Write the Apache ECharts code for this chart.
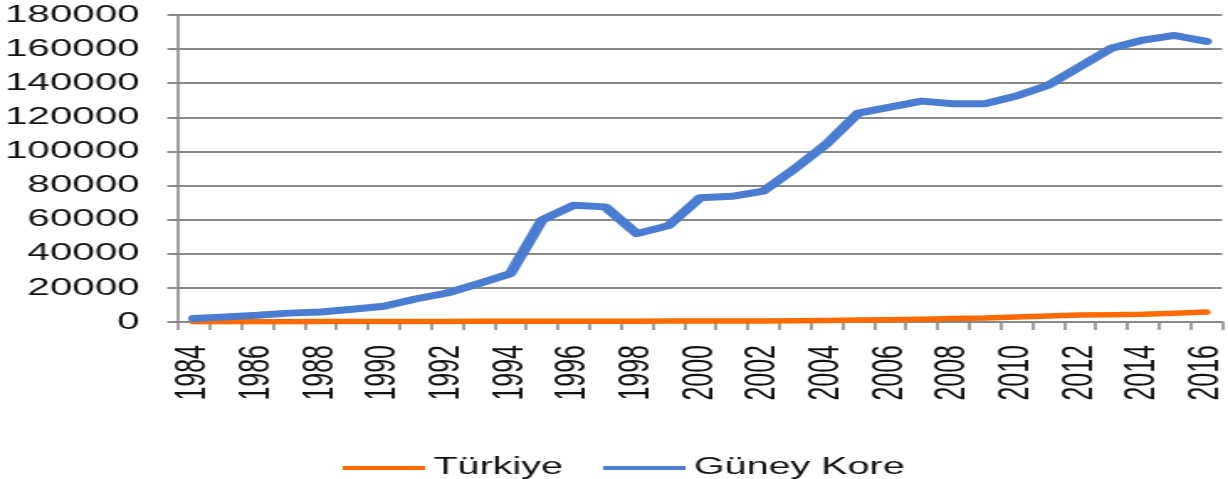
<!DOCTYPE html>
<html>
<head>
<meta charset="utf-8">
<script src="https://cdn.jsdelivr.net/npm/echarts@6/dist/echarts.min.js"></script>
<style>
  html, body { margin: 0; padding: 0; background: #fff; overflow: hidden; }
  /* the source picture is stretched sideways, so draw narrow and widen it */
  #linechart {
    width: 731px;
    height: 479px;
    transform: scaleX(1.68);
    transform-origin: 0 0;
  }
</style>
</head>
<body>
<div id="linechart"></div>
<script>
const years = [
  "1984", "1985", "1986", "1987", "1988", "1989", "1990", "1991", "1992", "1993", "1994",
  "1995", "1996", "1997", "1998", "1999", "2000", "2001", "2002", "2003", "2004", "2005",
  "2006", "2007", "2008", "2009", "2010", "2011", "2012", "2013", "2014", "2015", "2016"
];
const turkiye = [
  100, 120, 150, 200, 230, 260, 300, 320, 350, 380, 400,
  420, 450, 480, 500, 520, 550, 580, 620, 700, 900, 1100,
  1300, 1600, 2000, 2300, 2900, 3500, 4100, 4300, 4500, 5100, 5800
];
const guneyKore = [
  2000, 3000, 3900, 5200, 5900, 7500, 9200, 13500, 17000, 22500, 28400,
  59800, 68500, 67500, 51800, 56500, 72800, 73700, 76800, 90000, 104500, 122500,
  126000, 129500, 128000, 128000, 132500, 138800, 149600, 160500, 165300, 168000, 164500
];

const gray = "#898989";
const font = "'Liberation Sans', Arial, sans-serif";

let lineChart = echarts.init(document.getElementById("linechart"));
let options = {
  animation: false,
  textStyle: { fontFamily: font },
  grid: {
    left: 104.8,
    right: 3.6,
    top: 15,
    bottom: 157,
  },
  legend: {
    left: 199,
    top: 451,
    icon: "rect",
    itemWidth: 49,
    itemHeight: 4,
    itemGap: 24,
    textStyle: { color: "#111", fontSize: 23.5, fontFamily: font },
    data: ["Türkiye", "Güney Kore"],
  },
  xAxis: {
    type: "category",
    boundaryGap: true,
    data: years,
    axisLine: { lineStyle: { color: gray, width: 2 } },
    axisTick: {
      show: true,
      interval: 0,
      length: 8,
      lineStyle: { color: gray, width: 1.6 },
    },
    axisLabel: {
      interval: 1, // every other year
      rotate: 90,
      margin: 23,
      color: "#111",
      fontSize: 25,
      fontFamily: font,
    },
  },
  yAxis: {
    type: "value",
    min: 0,
    max: 180000,
    interval: 20000,
    axisLine: { show: true, lineStyle: { color: gray, width: 1.6 } },
    axisTick: { show: true, length: 6.5, lineStyle: { color: gray, width: 2 } },
    splitLine: { show: true, lineStyle: { color: gray, width: 2 } },
    axisLabel: {
      margin: 23,
      color: "#111",
      fontSize: 24,
      fontFamily: font,
      formatter: (v) => String(v), // no thousands separator
    },
  },
  series: [
    {
      name: "Türkiye",
      type: "line",
      data: turkiye,
      showSymbol: false,
      symbol: "none",
      color: "#ff6a00",
      lineStyle: { color: "#ff6a00", width: 5.5, cap: "round", join: "round" },
    },
    {
      name: "Güney Kore",
      type: "line",
      data: guneyKore,
      showSymbol: false,
      symbol: "none",
      color: "#4a7dd1",
      lineStyle: { color: "#4a7dd1", width: 7, cap: "round", join: "round" },
    },
  ],
};
lineChart.setOption(options);
</script>
</body>
</html>
